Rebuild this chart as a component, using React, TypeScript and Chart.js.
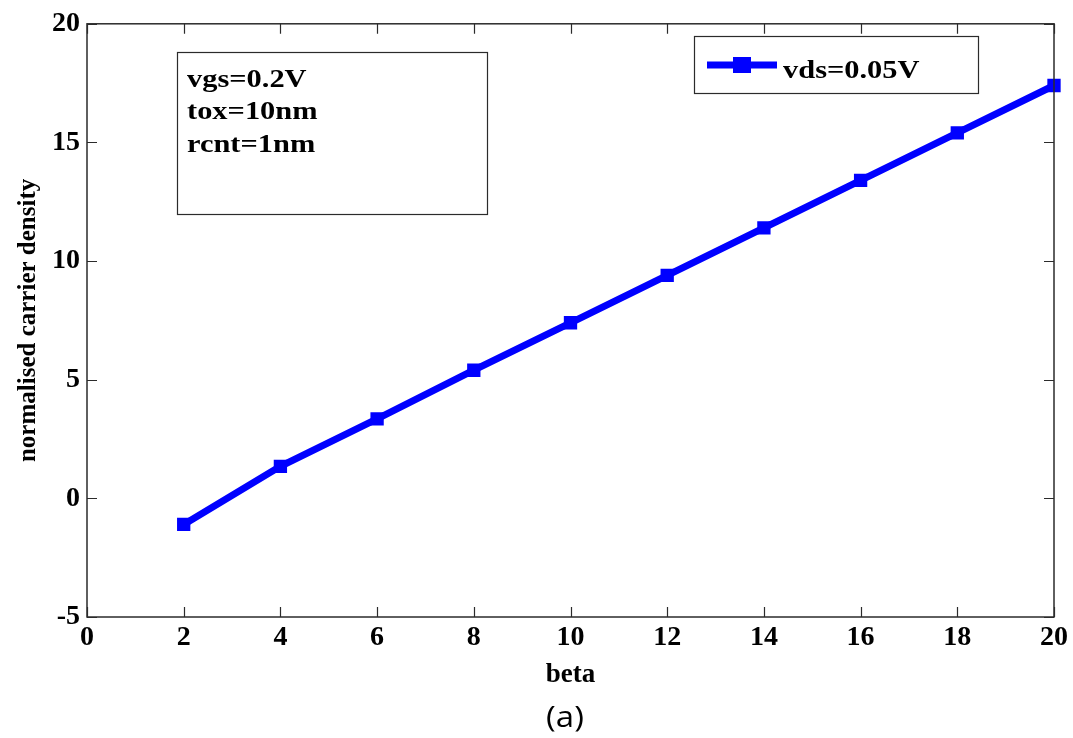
import React, { useEffect, useRef } from "react";
import { Chart, registerables } from "chart.js";

Chart.register(...registerables);

const betaValues = [2, 4, 6, 8, 10, 12, 14, 16, 18, 20];
const densityValues = [-1.1, 1.35, 3.35, 5.4, 7.4, 9.4, 11.4, 13.4, 15.4, 17.4];
const seriesLabel = "vds=0.05V";
const infoLines = ["vgs=0.2V", "tox=10nm", "rcnt=1nm"];
const xTitle = "beta";
const yTitle = "normalised carrier density";
const captionText = "(a)";
const xTickValues = [0, 2, 4, 6, 8, 10, 12, 14, 16, 18, 20];
const yTickValues = [-5, 0, 5, 10, 15, 20];

const SERIF = "'Liberation Serif', 'Times New Roman', serif";
const BLUE = "#0000ff";
const AXIS = "#2b2b2b";

function stretchText(ctx: CanvasRenderingContext2D, text: string, x: number, y: number, sx: number) {
  ctx.save();
  ctx.translate(x, y);
  ctx.scale(sx, 1);
  ctx.fillText(text, 0, 0);
  ctx.restore();
}

const decorPlugin = {
  id: "decor",
  afterDraw(chart: any) {
    const ctx: CanvasRenderingContext2D = chart.ctx;
    const area = chart.chartArea;
    const xs = chart.scales.x;
    const ys = chart.scales.y;
    ctx.save();
    ctx.strokeStyle = AXIS;
    ctx.lineWidth = 1.5;
    ctx.strokeRect(area.left, area.top, area.right - area.left, area.bottom - area.top);
    const tl = 10;
    ctx.lineWidth = 1.2;
    ctx.beginPath();
    xTickValues.forEach((v) => {
      const px = Math.round(xs.getPixelForValue(v)) + 0.5;
      ctx.moveTo(px, area.bottom);
      ctx.lineTo(px, area.bottom - tl);
      ctx.moveTo(px, area.top);
      ctx.lineTo(px, area.top + tl);
    });
    yTickValues.forEach((v) => {
      const py = Math.round(ys.getPixelForValue(v)) + 0.5;
      ctx.moveTo(area.left, py);
      ctx.lineTo(area.left + tl, py);
      ctx.moveTo(area.right, py);
      ctx.lineTo(area.right - tl, py);
    });
    ctx.stroke();

    const bx = 177, by = 52, bw = 310, bh = 162;
    ctx.fillStyle = "#ffffff";
    ctx.fillRect(bx, by, bw, bh);
    ctx.strokeStyle = AXIS;
    ctx.lineWidth = 1.2;
    ctx.strokeRect(bx + 0.5, by + 0.5, bw, bh);
    ctx.fillStyle = "#000";
    ctx.font = `bold 26px ${SERIF}`;
    ctx.textBaseline = "alphabetic";
    ctx.textAlign = "left";
    const baselines = [87, 119, 152];
    infoLines.forEach((t, i) => stretchText(ctx, t, 187, baselines[i], 1.17));

    const lx = 694, ly = 36, lw = 284, lh = 57;
    ctx.fillStyle = "#ffffff";
    ctx.fillRect(lx, ly, lw, lh);
    ctx.strokeStyle = AXIS;
    ctx.strokeRect(lx + 0.5, ly + 0.5, lw, lh);
    ctx.strokeStyle = BLUE;
    ctx.lineWidth = 7;
    ctx.beginPath();
    ctx.moveTo(707, 65);
    ctx.lineTo(777, 65);
    ctx.stroke();
    ctx.fillStyle = BLUE;
    ctx.fillRect(742 - 9, 65 - 8, 18, 16);
    ctx.fillStyle = "#000";
    ctx.font = `bold 26px ${SERIF}`;
    stretchText(ctx, seriesLabel, 783, 78, 1.17);

    ctx.font = `30px 'Open Sans', 'Noto Sans', sans-serif`;
    ctx.textAlign = "center";
    stretchText(ctx, captionText, 565, 727, 1.1);
    ctx.restore();
  },
};

export default function App() {
  const ref = useRef<HTMLCanvasElement | null>(null);

  useEffect(() => {
    document.body.style.margin = "0";
    const canvas = ref.current;
    if (!canvas) return;
    const chart = new Chart(canvas, {
      type: "line",
      data: {
        datasets: [
          {
            label: seriesLabel,
            data: betaValues.map((b, i) => ({ x: b, y: densityValues[i] })),
            borderColor: BLUE,
            backgroundColor: BLUE,
            borderWidth: 7,
            pointStyle: "rect",
            pointRadius: 8,
            pointBorderWidth: 2,
            pointBorderColor: BLUE,
            pointBackgroundColor: BLUE,
            tension: 0,
            clip: false,
          },
        ],
      },
      options: {
        responsive: false,
        animation: false,
        devicePixelRatio: 1,
        layout: { padding: { top: 20, right: 19, left: 0, bottom: 0 } },
        plugins: {
          legend: { display: false },
          tooltip: { enabled: false },
        },
        scales: {
          x: {
            type: "linear",
            min: 0,
            max: 20,
            afterFit: (s: any) => {
              s.height = 121;
            },
            afterBuildTicks: (s: any) => {
              s.ticks = xTickValues.map((v) => ({ value: v }));
            },
            grid: { display: false, drawTicks: false },
            border: { display: false },
            ticks: {
              padding: 4,
              color: "#000",
              maxRotation: 0,
              font: { family: SERIF, size: 28, weight: "bold" },
            },
            title: {
              display: true,
              text: xTitle,
              color: "#000",
              font: { family: SERIF, size: 27, weight: "bold" },
              padding: { top: 0, bottom: 47 },
            },
          },
          y: {
            type: "linear",
            min: -5,
            max: 20,
            afterFit: (s: any) => {
              s.width = 87;
            },
            afterBuildTicks: (s: any) => {
              s.ticks = yTickValues.map((v) => ({ value: v }));
            },
            grid: { display: false, drawTicks: false },
            border: { display: false },
            ticks: {
              padding: 7,
              color: "#000",
              font: { family: SERIF, size: 28, weight: "bold" },
            },
            title: {
              display: true,
              text: yTitle,
              color: "#000",
              font: { family: SERIF, size: 25, weight: "bold" },
              padding: { top: 14, bottom: 0 },
            },
          },
        },
      },
      plugins: [decorPlugin],
    } as any);
    return () => chart.destroy();
  }, []);

  return (
    <div style={{ position: "absolute", left: 0, top: 0, width: 1073, height: 738, background: "#fff" }}>
      <canvas ref={ref} width={1073} height={738} style={{ display: "block" }} />
    </div>
  );
}
